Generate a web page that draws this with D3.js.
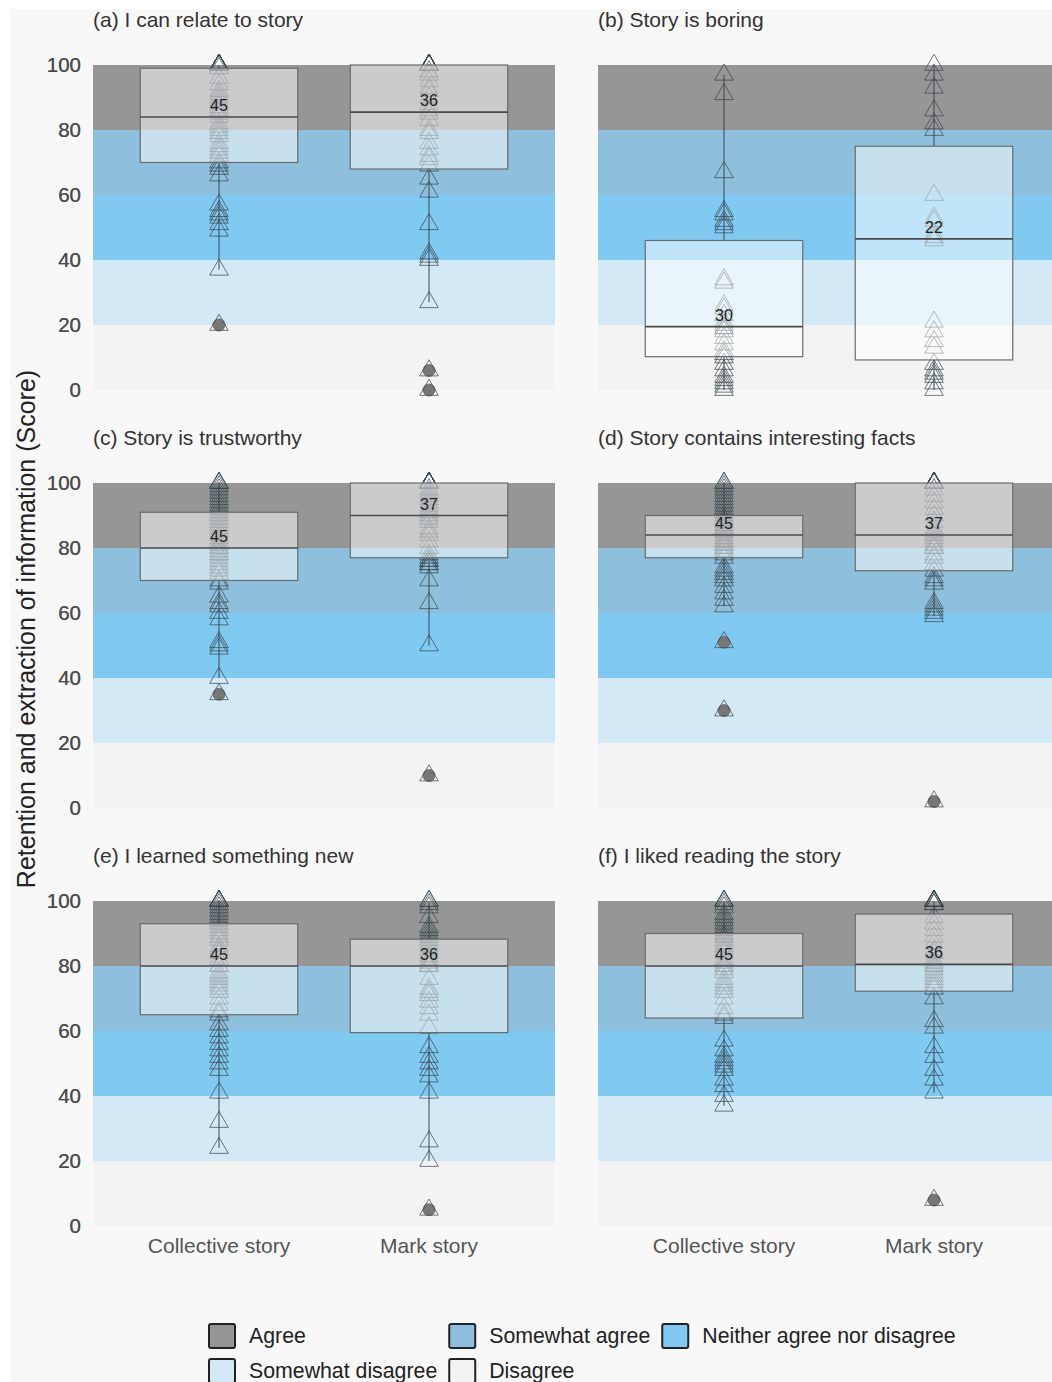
<!DOCTYPE html>
<html>
<head>
<meta charset="utf-8">
<script src="https://cdn.jsdelivr.net/npm/d3@7"></script>
<style>
    body { margin: 0; background: #ffffff; }
    svg { display: block; font-family: 'Liberation Sans', Arial, sans-serif; }
</style>
</head>
<body>
<div id="chart"></div>
<script>

// ---- data ----
const categories = ['Collective story', 'Mark story'];
const panelTitles = [
    '(a) I can relate to story',
    '(b) Story is boring',
    '(c) Story is trustworthy',
    '(d) Story contains interesting facts',
    '(e) I learned something new',
    '(f) I liked reading the story'
];
const yTicks = [0, 20, 40, 60, 80, 100];

// rating bands behind every panel
const bandLabels = ['Agree', 'Somewhat agree', 'Neither agree nor disagree', 'Somewhat disagree', 'Disagree'];
const bandLower = [80, 60, 40, 20, 0];
const bandUpper = [100, 80, 60, 40, 20];

// individual scores per statement and group
const relateCollective = [20, 37, 49, 51, 53, 54, 55, 57, 66, 68, 69, 70, 72, 73, 74, 75, 76, 78, 79, 80, 81, 82, 84,
    85, 86, 87, 88, 89, 90, 91, 92, 94, 96, 99, 100, 100, 100, 100, 100, 100, 100, 100, 100, 100, 100];
const relateMark = [0, 6, 27, 40, 41, 42, 51, 61, 65, 69, 71, 72, 74, 76, 79, 80, 83, 85, 86, 88, 90, 92, 93, 95, 97,
    98, 100, 100, 100, 100, 100, 100, 100, 100, 100, 100];
const boringCollective = [0, 1, 2, 3, 4, 6, 8, 10, 11, 12, 14, 16, 18, 19, 19, 20, 21, 23, 25, 26, 33, 34, 50, 51, 52,
    54, 55, 67, 91, 97];
const boringMark = [0, 2, 4, 5, 6, 8, 13, 15, 18, 21, 46, 47, 48, 52, 53, 60, 80, 82, 86, 93, 97, 100];
const trustCollective = [35, 40, 49, 50, 51, 58, 60, 62, 63, 65, 69, 70, 72, 73, 74, 75, 76, 77, 78, 78, 79, 80, 80,
    81, 82, 83, 84, 85, 86, 87, 88, 89, 90, 91, 92, 93, 94, 95, 96, 97, 98, 99, 100, 100, 100];
const trustMark = [10, 50, 63, 70, 74, 75, 75, 76, 76, 77, 78, 80, 82, 84, 85, 86, 88, 89, 90, 91, 92, 93, 94, 95, 96,
    97, 98, 100, 100, 100, 100, 100, 100, 100, 100, 100, 100];
const factsCollective = [30, 51, 62, 64, 66, 68, 70, 71, 72, 73, 74, 77, 78, 79, 80, 80, 81, 81, 82, 82, 83, 83, 84,
    85, 85, 86, 86, 87, 87, 88, 88, 89, 89, 90, 91, 92, 93, 94, 95, 96, 97, 98, 99, 100, 100];
const factsMark = [2, 59, 60, 61, 62, 63, 69, 70, 71, 73, 75, 77, 78, 80, 80, 81, 82, 83, 84, 85, 86, 88, 90, 92, 94,
    96, 98, 100, 100, 100, 100, 100, 100, 100, 100, 100, 100];
const learnedCollective = [24, 32, 41, 48, 50, 52, 54, 56, 58, 60, 62, 65, 66, 68, 70, 72, 73, 74, 75, 76, 77, 78, 80,
    80, 82, 84, 85, 86, 88, 89, 90, 91, 92, 93, 94, 95, 96, 97, 98, 99, 100, 100, 100, 100, 100];
const learnedMark = [5, 20, 26, 41, 46, 48, 50, 52, 55, 61, 65, 67, 69, 71, 72, 73, 76, 80, 80, 81, 82, 83, 84, 85, 86,
    87, 88, 89, 90, 91, 92, 95, 98, 99, 100, 100];
const likedCollective = [37, 40, 43, 45, 48, 49, 50, 51, 52, 54, 57, 64, 65, 67, 70, 72, 73, 74, 75, 76, 78, 79, 80,
    80, 81, 82, 84, 85, 86, 87, 88, 89, 89, 90, 91, 92, 93, 94, 95, 96, 98, 99, 100, 100, 100];
const likedMark = [8, 41, 45, 48, 52, 55, 61, 63, 70, 73, 74, 75, 76, 77, 78, 79, 80, 80, 81, 82, 84, 85, 87, 89, 91,
    93, 95, 99, 99, 100, 100, 100, 100, 100, 100, 100];

const panelScores = [
    [relateCollective, relateMark],
    [boringCollective, boringMark],
    [trustCollective, trustMark],
    [factsCollective, factsMark],
    [learnedCollective, learnedMark],
    [likedCollective, likedMark]
];

// ---- styles ----
const bandColors = ['#969696', '#8ec0dd', '#80c9f1', '#d3e9f6', '#f3f3f3'];
const pointColor = '#38474f';

/** One facet: rating bands, boxplot and individual scores for two groups. */
class ScorePanel {

    constructor(svg, title, groups, left, top, showXLabels) {
        this.svg = svg;
        this.title = title;
        this.groups = groups;
        this.left = left;
        this.top = top;
        this.width = 462;
        this.height = 325;
        this.showXLabels = showXLabels;
        this.draw();
    };

    stats(values) {
        let s = values.slice().sort(d3.ascending);
        let q1 = d3.quantileSorted(s, 0.25);
        let med = d3.quantileSorted(s, 0.5);
        let q3 = d3.quantileSorted(s, 0.75);
        let iqr = q3 - q1;
        let inside = s.filter(v => v >= q1 - 1.5 * iqr && v <= q3 + 1.5 * iqr);
        return {
            q1: q1, med: med, q3: q3,
            lo: d3.min(inside), hi: d3.max(inside),
            outliers: s.filter(v => v < q1 - 1.5 * iqr || v > q3 + 1.5 * iqr),
            n: s.length
        };
    }

    draw() {
        let x = d3.scalePoint()
            .domain(categories)
            .range([this.left, this.left + this.width])
            .padding(0.6);
        let y = d3.scaleLinear()
            .domain([0, 100])
            .range([this.top + this.height, this.top]);
        let boxW = x.step() * 0.75;
        let g = this.svg.append('g');

        // panel title
        g.append('text')
            .attr('x', this.left)
            .attr('y', this.top - 38)
            .text(this.title)
            .style('font-size', '21px')
            .style('fill', '#333');

        // rating bands
        g.selectAll('rect.band')
            .data(bandLabels)
            .enter()
            .append('rect')
            .attr('class', 'band')
            .attr('x', this.left)
            .attr('width', this.width)
            .attr('y', (d, i) => y(bandUpper[i]))
            .attr('height', (d, i) => y(bandLower[i]) - y(bandUpper[i]))
            .style('fill', (d, i) => bandColors[i]);

        // y tick labels
        g.selectAll('text.ytick')
            .data(yTicks)
            .enter()
            .append('text')
            .attr('class', 'ytick')
            .attr('x', 81)
            .attr('y', d => y(d))
            .attr('dy', '0.35em')
            .attr('text-anchor', 'end')
            .text(d => d)
            .style('font-size', '20.5px')
            .style('fill', '#4d4d4d');

        let stats = this.groups.map(v => this.stats(v));
        let tri = d3.symbol().type(d3.symbolTriangle).size(150);

        this.groups.forEach((values, i) => {
            let cx = x(categories[i]);
            let s = stats[i];
            // whiskers
            g.append('line')
                .attr('x1', cx).attr('x2', cx)
                .attr('y1', y(s.q3)).attr('y2', y(s.hi))
                .style('stroke', pointColor).style('stroke-width', 1);
            g.append('line')
                .attr('x1', cx).attr('x2', cx)
                .attr('y1', y(s.q1)).attr('y2', y(s.lo))
                .style('stroke', pointColor).style('stroke-width', 1);
            // outliers
            g.selectAll(null)
                .data(s.outliers)
                .enter()
                .append('circle')
                .attr('cx', cx)
                .attr('cy', d => y(d))
                .attr('r', 6.5)
                .style('fill', '#777');
            // individual scores
            g.selectAll(null)
                .data(values)
                .enter()
                .append('path')
                .attr('d', tri)
                .attr('transform', d => `translate(${cx},${y(d)})`)
                .style('fill', 'none')
                .style('stroke', pointColor)
                .style('stroke-opacity', 0.8)
                .style('stroke-width', 0.9);
        });

        // boxes sit on top of the points, so the points inside look faded
        this.groups.forEach((values, i) => {
            let cx = x(categories[i]);
            let s = stats[i];
            g.append('rect')
                .attr('x', cx - boxW / 2)
                .attr('width', boxW)
                .attr('y', y(s.q3))
                .attr('height', y(s.q1) - y(s.q3))
                .style('fill', '#ffffff')
                .style('fill-opacity', 0.5)
                .style('stroke', '#6b6b6b')
                .style('stroke-width', 1.2);
            g.append('line')
                .attr('x1', cx - boxW / 2).attr('x2', cx + boxW / 2)
                .attr('y1', y(s.med)).attr('y2', y(s.med))
                .style('stroke', '#4a4a4a')
                .style('stroke-width', 1.6);
            g.append('text')
                .attr('x', cx)
                .attr('y', y(s.med) - 6)
                .attr('text-anchor', 'middle')
                .text(s.n)
                .style('font-size', '16px')
                .style('fill', '#222');
        });

        if (this.showXLabels) {
            g.selectAll('text.xlab')
                .data(categories)
                .enter()
                .append('text')
                .attr('class', 'xlab')
                .attr('x', d => x(d))
                .attr('y', this.top + this.height + 27)
                .attr('text-anchor', 'middle')
                .text(d => d)
                .style('font-size', '21px')
                .style('fill', '#555');
        }
    }
}

let width = 1052;
let height = 1382;
let svg = d3.select('#chart')
    .append('svg')
    .attr('width', width)
    .attr('height', height);

// figure background
svg.append('rect')
    .attr('x', 10)
    .attr('y', 9)
    .attr('width', width - 10)
    .attr('height', height - 9)
    .style('fill', '#f8f8f8');

let colLeft = [93, 598];
let rowTop = [65, 483, 901];
panelTitles.forEach((t, i) => {
    let col = i % 2;
    let row = Math.floor(i / 2);
    new ScorePanel(svg, t, panelScores[i], colLeft[col], rowTop[row], row === 2);
});

// y axis title
svg.append('text')
    .attr('transform', 'translate(35, 629) rotate(-90)')
    .attr('text-anchor', 'middle')
    .text('Retention and extraction of information (Score)')
    .style('font-size', '25px')
    .style('fill', '#222');

// legend, two rows laid out column by column like ggplot
let legend = svg.append('g');
let legendRows = [1336, 1371];
let perRow = 3;
let keyX = 209;
let colWidths = [];
let items = bandLabels.map((label, i) => ({label: label, color: bandColors[i], row: Math.floor(i / perRow), col: i % perRow}));
let texts = legend.selectAll('text')
    .data(items)
    .enter()
    .append('text')
    .text(d => d.label)
    .style('font-size', '21.3px')
    .style('fill', '#222');
texts.each(function (d) {
    let w = this.getComputedTextLength();
    colWidths[d.col] = Math.max(colWidths[d.col] || 0, w);
});
let colStart = [keyX];
for (let c = 1; c < perRow; c++) {
    colStart[c] = colStart[c - 1] + 40 + colWidths[c - 1] + 12;
}
legend.selectAll('rect')
    .data(items)
    .enter()
    .append('rect')
    .attr('x', d => colStart[d.col])
    .attr('y', d => legendRows[d.row] - 12)
    .attr('width', 26)
    .attr('height', 24)
    .attr('rx', 2)
    .style('fill', d => d.color)
    .style('stroke', '#222')
    .style('stroke-width', 2);
texts
    .attr('x', d => colStart[d.col] + 40)
    .attr('y', d => legendRows[d.row])
    .attr('dy', '0.35em');

</script>
</body>
</html>
